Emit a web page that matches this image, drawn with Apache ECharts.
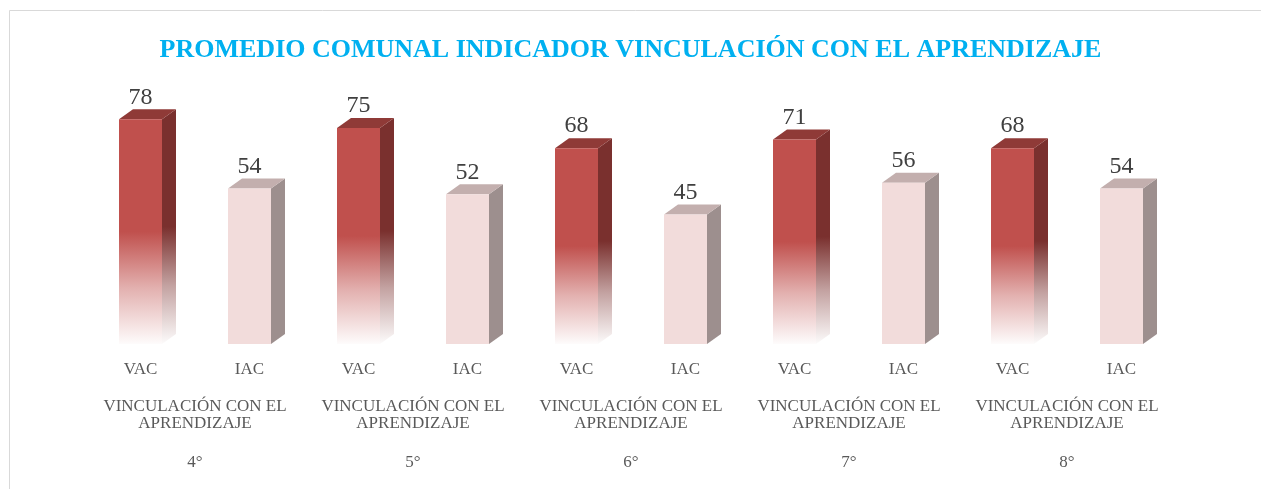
<!DOCTYPE html>
<html>
<head>
<meta charset="utf-8">
<script src="https://cdn.jsdelivr.net/npm/echarts@6/dist/echarts.min.js"></script>
<style>
  html, body { margin: 0; padding: 0; background: #fff; }
  #chart { width: 1261px; height: 489px; }
</style>
</head>
<body>
<div id="chart"></div>
<script>
// datos del grafico
var grados = ['4°', '5°', '6°', '7°', '8°'];
var indicador = 'VINCULACIÓN CON EL\nAPRENDIZAJE';
var vac = [78, 75, 68, 71, 68];
var iac = [54, 52, 45, 56, 54];

var chart = echarts.init(document.getElementById('chart'));

// categorias intercaladas VAC / IAC
var cats = [];
var vacData = [];
var iacData = [];
for (var i = 0; i < grados.length; i++) {
    cats.push('VAC', 'IAC');
    vacData.push([i * 2, vac[i]]);
    iacData.push([i * 2 + 1, iac[i]]);
}

var FONT = '"Liberation Serif", "DejaVu Serif", serif';

// barra 3D: cara frontal, lateral y superior
function bar3d(colors) {
    return function (params, api) {
        var top = api.coord([api.value(0), api.value(1)]);
        var base = api.coord([api.value(0), 0]);
        var w = 43, dx = 14, dy = 10;
        var x0 = top[0] - w / 2;
        var h = base[1] - top[1];
        return {
            type: 'group',
            children: [
                {
                    type: 'polygon',
                    shape: { points: [[x0 + w, top[1]], [x0 + w + dx, top[1] - dy], [x0 + w + dx, base[1] - dy], [x0 + w, base[1]]] },
                    style: { fill: colors.side }
                },
                {
                    type: 'polygon',
                    shape: { points: [[x0, top[1]], [x0 + dx, top[1] - dy], [x0 + w + dx, top[1] - dy], [x0 + w, top[1]]] },
                    style: { fill: colors.top }
                },
                {
                    type: 'rect',
                    shape: { x: x0, y: top[1], width: w, height: h },
                    style: { fill: colors.front }
                },
                {
                    type: 'text',
                    x: top[0],
                    y: top[1] - dy,
                    style: {
                        text: String(api.value(1)),
                        align: 'center',
                        verticalAlign: 'bottom',
                        fontSize: 24,
                        fontFamily: FONT,
                        fill: '#404040'
                    }
                }
            ]
        };
    };
}

function fade(r, g, b) {
    return {
        type: 'linear', x: 0, y: 0, x2: 0, y2: 1,
        colorStops: [
            { offset: 0, color: 'rgba(' + r + ',' + g + ',' + b + ',1)' },
            { offset: 0.5, color: 'rgba(' + r + ',' + g + ',' + b + ',1)' },
            { offset: 0.75, color: 'rgba(' + r + ',' + g + ',' + b + ',0.45)' },
            { offset: 1, color: 'rgba(' + r + ',' + g + ',' + b + ',0.02)' }
        ]
    };
}

var option = {
    backgroundColor: '#fff',
    title: {
        text: 'PROMEDIO COMUNAL INDICADOR VINCULACIÓN CON EL APRENDIZAJE',
        left: 'center',
        top: 32,
        textStyle: {
            color: '#00B0F0',
            fontSize: 26,
            fontWeight: 'bold',
            fontFamily: FONT
        }
    },
    graphic: [{
        type: 'rect',
        shape: { x: 9.5, y: 10.5, width: 1300, height: 520 },
        style: { fill: null, stroke: '#D9D9D9', lineWidth: 1 },
        silent: true
    }],
    grid: { left: 86, right: 85, top: 56, bottom: 145 },
    xAxis: [
        {
            type: 'category',
            data: cats,
            axisLine: { show: false },
            axisTick: { show: false },
            axisLabel: { color: '#595959', fontSize: 17, fontFamily: FONT, margin: 17, interval: 0 }
        },
        {
            type: 'category',
            data: grados,
            position: 'bottom',
            axisLine: { show: false },
            axisTick: { show: false },
            axisLabel: {
                color: '#595959', fontSize: 17, fontFamily: FONT, margin: 54, lineHeight: 17, interval: 0,
                formatter: function () { return indicador; }
            }
        },
        {
            type: 'category',
            data: grados,
            position: 'bottom',
            axisLine: { show: false },
            axisTick: { show: false },
            axisLabel: { color: '#595959', fontSize: 17, fontFamily: FONT, margin: 110, interval: 0 }
        }
    ],
    yAxis: {
        type: 'value',
        min: 0,
        max: 100,
        show: false
    },
    series: [
        {
            name: 'VAC',
            type: 'custom',
            renderItem: bar3d({ front: fade(192, 80, 77), side: fade(122, 48, 46), top: '#8F3A37' }),
            data: vacData
        },
        {
            name: 'IAC',
            type: 'custom',
            renderItem: bar3d({ front: '#F2DCDB', side: '#9D8F8E', top: '#C3AFAE' }),
            data: iacData
        }
    ]
};

chart.setOption(option);
</script>
</body>
</html>
